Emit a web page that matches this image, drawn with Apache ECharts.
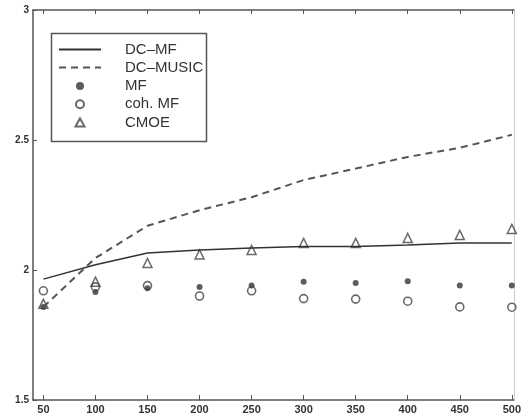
<!DOCTYPE html>
<html><head><meta charset="utf-8">
<script src="https://cdn.jsdelivr.net/npm/echarts@6/dist/echarts.min.js"></script>
<style>html,body{margin:0;padding:0;background:#fff}#c{width:524px;height:417px}</style>
</head><body><div id="c"></div>
<script>
var xValues = [50,100,150,200,250,300,350,400,450,500];
var xTicks = [50,100,150,200,250,300,350,400,450,500];
var yTicks = [1.5,2,2.5,3];
var seriesNames = ['DC–MF','DC–MUSIC','MF','coh. MF','CMOE'];
var dcMF    = [1.965,2.02,2.065,2.077,2.085,2.09,2.09,2.096,2.104,2.104];
var dcMUSIC = [1.858,2.046,2.17,2.23,2.28,2.346,2.39,2.435,2.47,2.52];
var mf      = [1.858,1.915,1.93,1.935,1.94,1.955,1.95,1.957,1.94,1.94];
var cohMF   = [1.92,1.935,1.94,1.90,1.92,1.89,1.888,1.88,1.858,1.857];
var cmoe    = [1.87,1.955,2.027,2.06,2.077,2.104,2.104,2.123,2.135,2.158];

function pairs(v){ return xValues.map(function(x,i){ return [x, v[i]]; }); }
var font = '"Liberation Sans", Arial, sans-serif';
var hidden = {color:'rgba(0,0,0,0)', borderColor:'rgba(0,0,0,0)', borderWidth:0};
var chart = echarts.init(document.getElementById('c'), null, {renderer:'canvas'});
chart.setOption({
  animation:false,
  backgroundColor:'#fff',
  grid:{left:33, right:4, top:10, bottom:17},
  xAxis:[{
    type:'value', min:40, max:502, position:'bottom',
    axisLine:{show:true, lineStyle:{color:'#555', width:1.5}},
    axisTick:{show:true, inside:true, length:5, customValues:xTicks, lineStyle:{color:'#555'}},
    axisLabel:{show:true, customValues:xTicks, margin:4, color:'#333', fontSize:11, fontWeight:'bold', fontFamily:font},
    splitLine:{show:false}
  },{
    type:'value', min:40, max:502, position:'top',
    axisLine:{show:true, lineStyle:{color:'#555', width:1.5}},
    axisTick:{show:true, inside:true, length:4, customValues:xTicks, lineStyle:{color:'#555'}},
    axisLabel:{show:false},
    splitLine:{show:false}
  }],
  yAxis:[{
    type:'value', min:1.5, max:3, interval:0.5, position:'left',
    axisLine:{show:true, lineStyle:{color:'#555', width:1.5}},
    axisTick:{show:true, inside:true, length:4, lineStyle:{color:'#555'}},
    axisLabel:{show:true, margin:4, color:'#333', fontSize:10, fontWeight:'bold', fontFamily:font,
      formatter:function(v){ return String(v); }},
    splitLine:{show:false}
  },{
    type:'value', min:1.5, max:3, interval:0.5, position:'right',
    axisLine:{show:true, lineStyle:{color:'#ccc', width:1}},
    axisTick:{show:false}, axisLabel:{show:false}, splitLine:{show:false}
  }],
  legend:[{
    orient:'vertical', left:53, top:37, padding:5,
    itemWidth:42, itemHeight:8, itemGap:3,
    data:seriesNames.slice(0,2),
    textStyle:{color:'#333', fontSize:15, fontFamily:font, lineHeight:14, padding:[0,0,0,19]}
  },{
    orient:'vertical', left:69.5, top:73.5, padding:5,
    itemWidth:9, itemHeight:8, itemGap:3.2,
    data:seriesNames.slice(2),
    textStyle:{color:'#333', fontSize:15, fontFamily:font, lineHeight:14, padding:[0,0,0,35.5]}
  }],
  graphic:[{
    type:'rect', left:49, top:31, z:100,
    shape:{width:155, height:108},
    style:{fill:'none', stroke:'#555', lineWidth:1.5}
  }],
  series:[
    {name:seriesNames[0], type:'line', data:pairs(dcMF), symbol:'none',
     lineStyle:{color:'#333', width:1.5}, itemStyle:hidden},
    {name:seriesNames[1], type:'line', data:pairs(dcMUSIC), symbol:'none',
     lineStyle:{color:'#555', width:2, type:[7,5]}, itemStyle:hidden},
    {name:seriesNames[2], type:'scatter', data:pairs(mf), symbol:'circle', symbolSize:6,
     itemStyle:{color:'#333'}},
    {name:seriesNames[3], type:'scatter', data:pairs(cohMF), symbol:'circle', symbolSize:8,
     itemStyle:{color:'rgba(255,255,255,0)', borderColor:'#444', borderWidth:1.6}},
    {name:seriesNames[4], type:'scatter', data:pairs(cmoe), symbol:'triangle', symbolSize:9,
     itemStyle:{color:'rgba(255,255,255,0)', borderColor:'#444', borderWidth:1.5}}
  ]
});
</script></body></html>
